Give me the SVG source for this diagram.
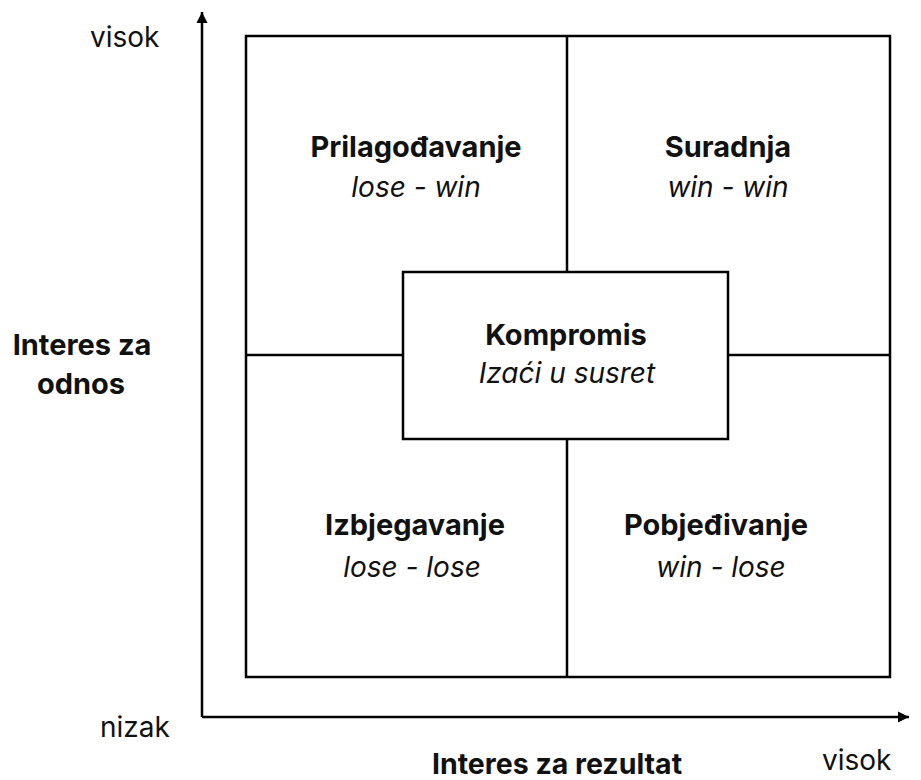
<svg xmlns="http://www.w3.org/2000/svg" width="921" height="780" viewBox="0 0 921 780">
<defs>
<marker id="arr" viewBox="0 0 10 10" refX="10" refY="5" markerWidth="4.5" markerHeight="4.5" orient="auto" markerUnits="strokeWidth"><path d="M0,0 L10,5 L0,10 z" fill="#000"/></marker>
<style>
.ln{stroke:#000;stroke-width:2.5;fill:none}
.box{stroke:#000;stroke-width:2.5;fill:#fff}
text{font-family:Inter,"Liberation Sans",sans-serif;fill:#111}
.t{font-size:29px;font-weight:700;text-anchor:middle}
.s{font-size:28px;font-style:italic;text-anchor:middle}
.a{font-size:28px}
.ab{font-size:29px;font-weight:700;text-anchor:middle}
</style>
</defs>
<rect width="921" height="780" fill="#fff"/>
<g id="connectors">
<line class="ln" x1="202" y1="717" x2="202" y2="12" marker-end="url(#arr)"/>
<line class="ln" x1="202" y1="717" x2="909" y2="717" marker-end="url(#arr)"/>
<line class="ln" x1="567" y1="36" x2="567" y2="677"/>
<line class="ln" x1="246" y1="355" x2="890" y2="355"/>
</g>
<g id="frame"><rect class="ln" x="246" y="36" width="644" height="641"/></g>
<g id="prilagodavanje"><text class="t" x="416" y="157">Prilagođavanje</text><text class="s" x="416" y="197">lose - win</text></g>
<g id="suradnja"><text class="t" x="728" y="157">Suradnja</text><text class="s" x="728" y="197">win - win</text></g>
<g id="izbjegavanje"><text class="t" x="415" y="535">Izbjegavanje</text><text class="s" x="412" y="577">lose - lose</text></g>
<g id="pobjedivanje"><text class="t" x="716" y="535">Pobjeđivanje</text><text class="s" x="721" y="577">win - lose</text></g>
<g id="kompromis"><rect class="box" x="403" y="272" width="325" height="167"/><text class="t" x="566" y="345">Kompromis</text><text class="s" x="567" y="383">Izaći u susret</text></g>
<g id="labels">
<text class="a" x="90" y="47">visok</text>
<text class="a" x="100" y="737">nizak</text>
<text class="a" x="822" y="770">visok</text>
<text class="ab" x="82" y="355">Interes za</text>
<text class="ab" x="81" y="394">odnos</text>
<text class="ab" x="557" y="774" style="font-size:28.5px">Interes za rezultat</text>
</g>
</svg>
